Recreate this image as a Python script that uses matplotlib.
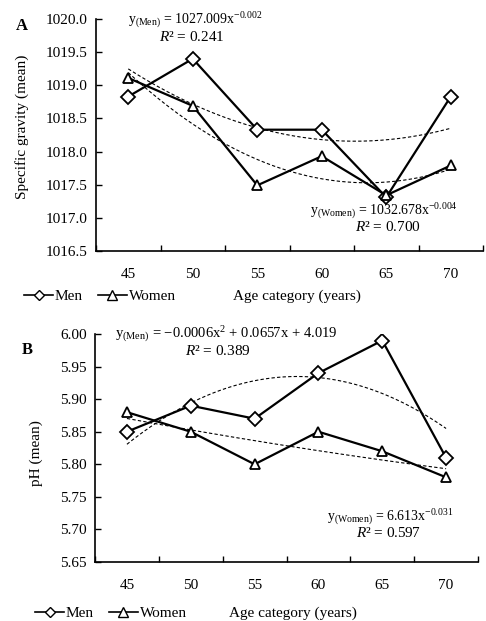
import numpy as np
import matplotlib
matplotlib.use("Agg")
import matplotlib.pyplot as plt
from matplotlib.lines import Line2D

plt.rcParams['font.family'] = ['Liberation Serif', 'DejaVu Serif']
plt.rcParams['mathtext.fontset'] = 'custom'
plt.rcParams['mathtext.rm'] = 'Liberation Serif'
plt.rcParams['mathtext.it'] = 'Liberation Serif:italic'
plt.rcParams['mathtext.bf'] = 'Liberation Serif:bold'

# data
ages = ['45', '50', '55', '60', '65', '70']
sg_men = [1018.83, 1019.40, 1018.33, 1018.33, 1017.31, 1018.83]
sg_women = [1019.11, 1018.69, 1017.49, 1017.93, 1017.34, 1017.79]
ph_men = [5.85, 5.89, 5.87, 5.94, 5.99, 5.81]
ph_women = [5.88, 5.85, 5.80, 5.85, 5.82, 5.78]

W, H = 486, 621
fig = plt.figure(figsize=(W / 100, H / 100), dpi=100)


def px_rect(left, top, right, bottom):
    return [left / W, 1 - bottom / H, (right - left) / W, (bottom - top) / H]


def draw_panel(ax, men, women, ylim, yticks, fmt):
    x = np.arange(len(ages))
    # dashed 2nd order trend lines
    xs = np.linspace(0, len(ages) - 1, 200)
    for series in (men, women):
        c = np.polyfit(x + 1, series, 2)
        ax.plot(xs, np.polyval(c, xs + 1), ls=(0, (3, 2)), color='black', lw=0.8)
    ax.plot(x, men, color='black', lw=1.6, marker='D', ms=7.5,
            mfc='white', mec='black', mew=1.3, zorder=4)
    ax.plot(x, women, color='black', lw=1.6, marker='^', ms=7.5,
            mfc='white', mec='black', mew=1.3, zorder=4)
    ax.set_xlim(-0.5, len(ages) - 0.5)
    ax.set_ylim(*ylim)
    ax.set_yticks(yticks)
    ax.set_yticklabels([fmt.format(v) for v in yticks])
    ax.set_xticks(np.arange(len(ages) + 1) - 0.5)
    ax.set_xticklabels([])
    ax.set_xticks(x, minor=True)
    ax.set_xticklabels(ages, minor=True)
    ax.tick_params(axis='x', which='minor', length=0, pad=12, labelsize=11)
    ax.tick_params(axis='x', which='major', direction='in', length=4, width=1)
    ax.tick_params(axis='y', direction='in', length=4, width=1, labelsize=11, pad=6)
    for s in ('top', 'right'):
        ax.spines[s].set_visible(False)
    for s in ('left', 'bottom'):
        ax.spines[s].set_linewidth(1.2)


def legend_row(y, x0):
    handles = [Line2D([], [], color='black', lw=1.2, marker='D', ms=5, mfc='white', mew=1),
               Line2D([], [], color='black', lw=1.2, marker='^', ms=6.5, mfc='white', mew=1)]
    fig.legend(handles, ['Men', 'Women'], loc='center left',
               bbox_to_anchor=(x0 / W, 1 - y / H), ncol=2, frameon=False,
               fontsize=11, handlelength=1.9, handletextpad=0.1,
               columnspacing=1.0, borderaxespad=0, borderpad=0)


EQ = 10

# Panel A
axA = fig.add_axes(px_rect(96, 19, 483, 251))
draw_panel(axA, sg_men, sg_women, (1016.5, 1020.0),
           np.arange(1016.5, 1020.01, 0.5), '{:.1f}')
fig.text(16 / W, 1 - 26 / H, 'A', fontsize=12, fontweight='bold', va='center')
fig.text(22 / W, 1 - 127 / H, 'Specific gravity (mean)', rotation=90,
         fontsize=11, ha='center', va='center')
fig.text(128 / W, 1 - 20 / H, r'y$_{\rm (Men)}$ = 1027.009x$^{-0.002}$',
         fontsize=EQ, va='center')
fig.text(192 / W, 1 - 37 / H, r'$R$² = 0.241', fontsize=EQ + 1, ha='center', va='center')
fig.text(310 / W, 1 - 211 / H, r'y$_{\rm (Women)}$ = 1032.678x$^{-0.004}$',
         fontsize=EQ, va='center')
fig.text(388 / W, 1 - 227 / H, r'$R$² = 0.700', fontsize=EQ + 1, ha='center', va='center')
legend_row(296, 24)
fig.text(297 / W, 1 - 296 / H, 'Age category (years)', fontsize=11,
         ha='center', va='center')

# Panel B
axB = fig.add_axes(px_rect(95, 334, 478, 562))
draw_panel(axB, ph_men, ph_women, (5.65, 6.00),
           np.arange(5.65, 6.001, 0.05), '{:.2f}')
fig.text(22 / W, 1 - 350 / H, 'B', fontsize=12, fontweight='bold', va='center')
fig.text(36 / W, 1 - 453 / H, 'pH (mean)', rotation=90,
         fontsize=11, ha='center', va='center')
fig.text(115 / W, 1 - 334 / H,
         r'y$_{\rm (Men)}$ = $-$0.0006x$^2$ + 0.0657x + 4.019',
         fontsize=EQ + 0.5, va='center')
fig.text(218 / W, 1 - 351 / H, r'$R$² = 0.389', fontsize=EQ + 1, ha='center', va='center')
fig.text(327 / W, 1 - 517 / H, r'y$_{\rm (Women)}$ = 6.613x$^{-0.031}$',
         fontsize=EQ, va='center')
fig.text(388 / W, 1 - 533 / H, r'$R$² = 0.597', fontsize=EQ + 1, ha='center', va='center')
legend_row(613, 35)
fig.text(293 / W, 1 - 613 / H, 'Age category (years)', fontsize=11,
         ha='center', va='center')

fig.savefig('out.png', dpi=100)
